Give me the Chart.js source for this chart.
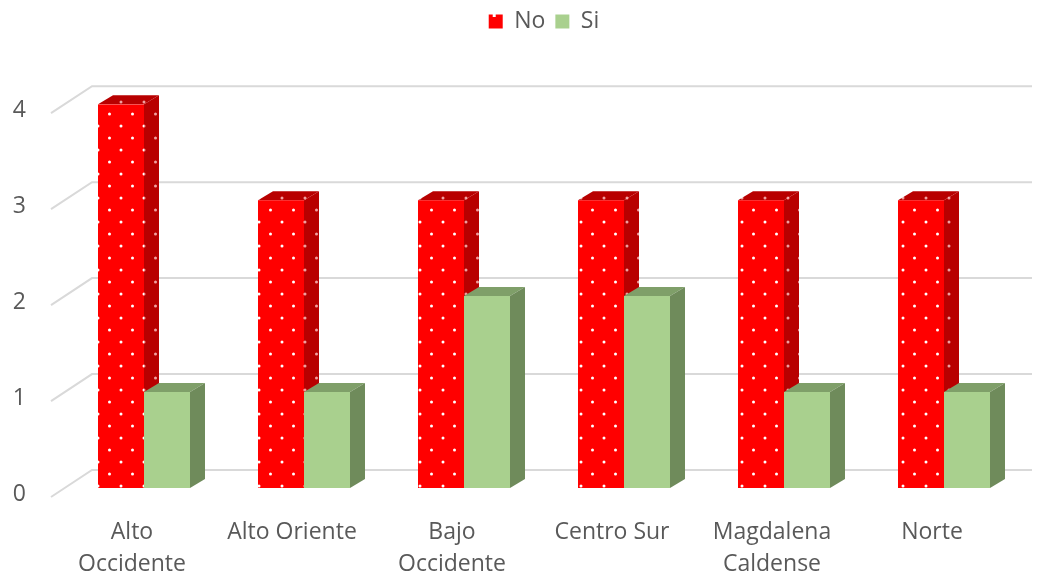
<!DOCTYPE html>
<html>
<head>
<meta charset="utf-8">
<script src="https://cdn.jsdelivr.net/npm/chart.js@4.4.1/dist/chart.umd.min.js"></script>
<style>
  body { margin: 0; background: #fff; }
  #wrap { width: 1042px; height: 571px; }
</style>
</head>
<body>
<div id="wrap"><canvas id="myChart"></canvas></div>
<script>
// data
var regiones = [["Alto", "Occidente"], "Alto Oriente", ["Bajo", "Occidente"], "Centro Sur", ["Magdalena", "Caldense"], "Norte"];
var valoresNo = [4, 3, 3, 3, 3, 3];
var valoresSi = [1, 1, 2, 2, 1, 1];
var yMax = 4;

// dotted fill like the excel pattern
function dotPattern(bg, dot) {
  var c = document.createElement("canvas");
  c.width = 23; c.height = 24;
  var g = c.getContext("2d");
  g.fillStyle = bg;
  g.fillRect(0, 0, 23, 24);
  g.fillStyle = dot;
  g.beginPath(); g.arc(6, 6, 1.5, 0, Math.PI * 2); g.fill();
  g.beginPath(); g.arc(17.5, 18, 1.5, 0, Math.PI * 2); g.fill();
  return document.getElementById("myChart").getContext("2d").createPattern(c, "repeat");
}
var redFront = dotPattern("#ff0000", "#ffffff");
var redDark = dotPattern("#b80000", "#f0a0a0");

var colores = [
  { front: redFront, side: redDark, top: redDark },
  { front: "#a9d08e", side: "#6f8b5b", top: "#7f9f69" }
];

var DX = 15, DY = 9;
var fuente = "'Open Sans'";

// fake 3d: gridlines with floor stub + bar tops and sides
var fake3d = {
  id: "fake3d",
  beforeDatasetsDraw: function(chart) {
    var ctx = chart.ctx, ca = chart.chartArea, ys = chart.scales.y;
    ctx.save();
    ctx.strokeStyle = "#d9d9d9";
    ctx.lineWidth = 2;
    ys.ticks.forEach(function(t) {
      var y = ys.getPixelForValue(t.value);
      ctx.beginPath();
      ctx.moveTo(ca.left - 13, y + 9);
      ctx.lineTo(ca.left + 28, y - 18);
      ctx.lineTo(ca.right + 8, y - 18);
      ctx.stroke();
    });
    chart.data.datasets.forEach(function(ds, i) {
      var meta = chart.getDatasetMeta(i);
      meta.data.forEach(function(bar) {
        var p = bar.getProps(["x", "y", "base", "width"], true);
        var x0 = p.x - p.width / 2, x1 = p.x + p.width / 2;
        ctx.fillStyle = colores[i].top;
        ctx.beginPath();
        ctx.moveTo(x0, p.y);
        ctx.lineTo(x0 + DX, p.y - DY);
        ctx.lineTo(x1 + DX, p.y - DY);
        ctx.lineTo(x1, p.y);
        ctx.closePath();
        ctx.fill();
        ctx.fillStyle = colores[i].side;
        ctx.beginPath();
        ctx.moveTo(x1, p.y);
        ctx.lineTo(x1 + DX, p.y - DY);
        ctx.lineTo(x1 + DX, p.base - DY);
        ctx.lineTo(x1, p.base);
        ctx.closePath();
        ctx.fill();
      });
    });
    ctx.restore();
  },
  afterDraw: function(chart) {
    // little white dot in the "No" legend box
    var box = chart.legend.legendHitBoxes[0];
    if (!box) return;
    var ctx = chart.ctx;
    ctx.save();
    ctx.fillStyle = "#ffffff";
    ctx.fillRect(box.left + 4, box.top + 4, 3, 3);
    ctx.restore();
  }
};

var ctx = document.getElementById("myChart");
var myChart = new Chart(ctx, {
  type: "bar",
  data: {
    labels: regiones,
    datasets: [
      { label: "No", data: valoresNo, backgroundColor: redFront, borderWidth: 0 },
      { label: "Si", data: valoresSi, backgroundColor: "#a9d08e", borderWidth: 0 }
    ]
  },
  options: {
    responsive: true,
    maintainAspectRatio: false,
    animation: false,
    layout: { padding: { top: 0, right: 18, left: 0, bottom: 0 } },
    datasets: { bar: { categoryPercentage: 0.575, barPercentage: 1 } },
    plugins: {
      legend: {
        position: "top",
        fullSize: false,
        labels: {
          boxWidth: 14, boxHeight: 14, padding: 10,
          color: "#595959",
          font: { family: fuente, size: 23 },
          generateLabels: function(chart) {
            return [
              { text: "No", fillStyle: "#ff0000", strokeStyle: "#ff0000", lineWidth: 0, datasetIndex: 0, fontColor: "#595959" },
              { text: "Si", fillStyle: "#a9d08e", strokeStyle: "#a9d08e", lineWidth: 0, datasetIndex: 1, fontColor: "#595959" }
            ];
          }
        }
      },
      // empty title used as a spacer under the legend
      title: {
        display: true, text: "", weight: 500,
        font: { size: 1 }, padding: { top: 30, bottom: 30 }
      },
      tooltip: { enabled: false }
    },
    scales: {
      x: {
        grid: { display: false, drawTicks: false },
        border: { display: false },
        ticks: {
          color: "#595959", padding: 28, labelOffset: -12, maxRotation: 0,
          font: { family: fuente, size: 23, lineHeight: 1.4 }
        },
        afterFit: function(s) { s.height = 83; }
      },
      y: {
        min: 0, max: yMax,
        grid: { display: false, drawTicks: false },
        border: { display: false },
        ticks: {
          stepSize: 1, color: "#595959", padding: 38, labelOffset: 6,
          font: { family: fuente, size: 23 }
        },
        afterFit: function(s) { s.width = 64; }
      }
    }
  },
  plugins: [fake3d]
});
</script>
</body>
</html>
